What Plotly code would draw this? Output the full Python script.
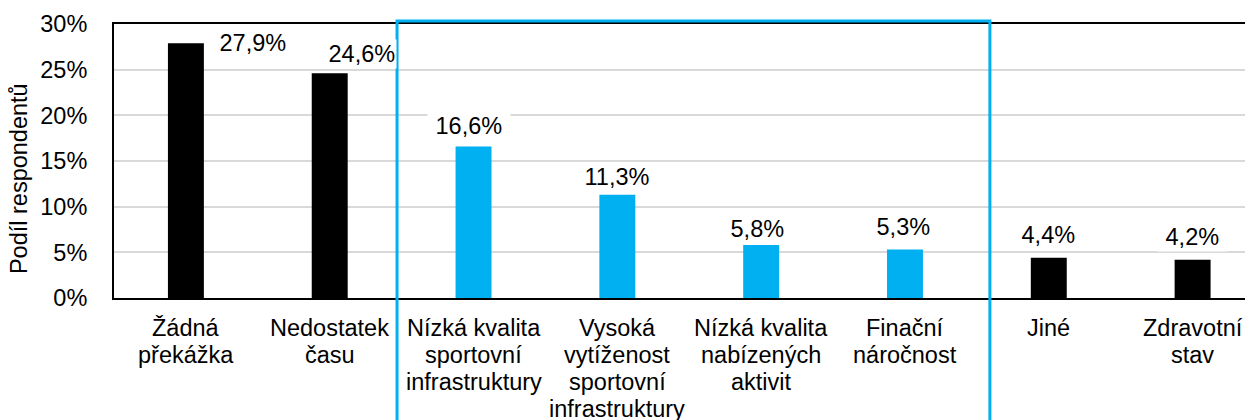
import plotly.graph_objects as go

# ---- data ----
categories = [
    "Žádná\npřekážka",
    "Nedostatek\nčasu",
    "Nízká kvalita\nsportovní\ninfrastruktury",
    "Vysoká\nvytíženost\nsportovní\ninfrastruktury",
    "Nízká kvalita\nnabízených\naktivit",
    "Finační\nnáročnost",
    "Jiné",
    "Zdravotní\nstav",
]
values = [27.9, 24.6, 16.6, 11.3, 5.8, 5.3, 4.4, 4.2]
highlighted = [False, False, True, True, True, True, False, False]
y_ticks = [0, 5, 10, 15, 20, 25, 30]
y_title = "Podíl respondentů"

# ---- styling ----
BLACK = "#000000"
BLUE = "#00B0F0"
FONT = "Liberation Sans, Arial, sans-serif"
FS = 23.5
# label offsets (xshift, yshift) relative to the top-centre of each bar
label_shift = [(67, 0), (29, 19), (-5, 20), (0, 18), (-4, 16), (-1, 23), (0, 23), (0, 23)]
label_pad = [(" ", " "), (" ", ""), (" ", " "), (" ", " "), (" ", " "), (" ", " "), (" ", " "), (" ", " ")]

keys = [c.replace("\n", " ") for c in categories]
colors = [BLUE if h else BLACK for h in highlighted]

fig = go.Figure()
fig.add_trace(go.Bar(
    x=keys, y=values, width=0.25,
    marker=dict(color=colors, line=dict(width=0)),
    hoverinfo="skip",
))

annotations = []
# data labels
for k, v, (dx, dy), (pl, pr) in zip(keys, values, label_shift, label_pad):
    txt = pl + f"{v:.1f}".replace(".", ",") + "%" + pr
    annotations.append(dict(
        x=k, y=v, xref="x", yref="y", text=txt, showarrow=False,
        xanchor="center", yanchor="middle", xshift=dx, yshift=dy,
        bgcolor="white", borderpad=1,
        font=dict(family=FONT, size=FS, color=BLACK),
    ))
# category labels, one line at a time (tighter line spacing than plotly ticks)
for k, c in zip(keys, categories):
    for i, line in enumerate(c.split("\n")):
        annotations.append(dict(
            x=k, y=0, xref="x", yref="y", text=line, showarrow=False,
            xanchor="center", yanchor="middle", yshift=-(30 + 27 * i),
            font=dict(family=FONT, size=FS, color=BLACK),
        ))
# y-axis title
annotations.append(dict(
    x=-0.0834, y=0.434, xref="paper", yref="paper", text=y_title,
    textangle=-90, showarrow=False, xanchor="center", yanchor="middle",
    font=dict(family=FONT, size=FS, color=BLACK),
))

fig.update_layout(
    width=1245, height=412,
    margin=dict(l=106, r=0, t=16, b=122, autoexpand=False),
    paper_bgcolor="white", plot_bgcolor="white",
    showlegend=False,
    font=dict(family=FONT, size=FS, color=BLACK),
    annotations=annotations,
    shapes=[dict(
        type="rect", xref="paper", yref="paper",
        x0=0.2485, x1=0.769, y0=-0.6, y1=1.011,
        line=dict(color=BLUE, width=3), fillcolor="rgba(0,0,0,0)", layer="above",
    )],
)
fig.update_xaxes(
    type="category", range=[-0.5, 7.42], showticklabels=False, ticks="",
    showgrid=False, showline=True, mirror=True, linecolor=BLACK, linewidth=2,
    fixedrange=True, automargin=False,
)
fig.update_yaxes(
    range=[0, 30], tickvals=y_ticks, ticktext=[f"{t}%" for t in y_ticks],
    showgrid=True, gridcolor="#D9D9D9", gridwidth=1.5, zeroline=False,
    showline=True, linecolor=BLACK, linewidth=2, ticks="",
    ticklabelstandoff=20, tickfont=dict(family=FONT, size=FS, color=BLACK),
    fixedrange=True, automargin=False,
)

fig.write_html("out.html")
